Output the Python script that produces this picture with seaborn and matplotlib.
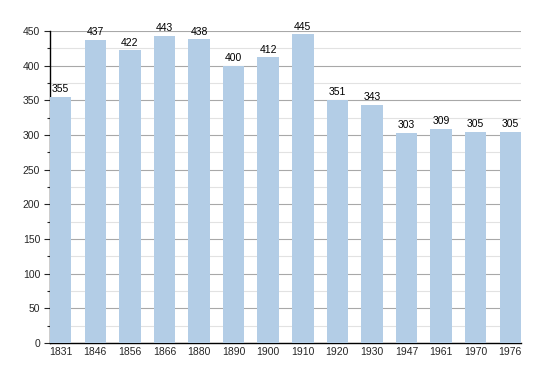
import matplotlib
matplotlib.use("Agg")
import matplotlib.pyplot as plt
from matplotlib.ticker import MultipleLocator
import seaborn as sns
import pandas as pd

# population by census year
years = ["1831", "1846", "1856", "1866", "1880", "1890", "1900",
         "1910", "1920", "1930", "1947", "1961", "1970", "1976"]
population = [355, 437, 422, 443, 438, 400, 412,
              445, 351, 343, 303, 309, 305, 305]

df = pd.DataFrame({"year": years, "population": population})

sns.set_style("white")
plt.rcParams["font.family"] = ["Liberation Sans", "DejaVu Sans"]

fig = plt.figure(figsize=(5.5, 3.73), dpi=100)
ax = fig.add_axes([0.0909, 0.0804, 0.8564, 0.8365])

bar_w = 0.62
sns.barplot(data=df, x="year", y="population", color="#b3cde6",
            saturation=1, width=bar_w, linewidth=0, ax=ax, zorder=3)
for c in ax.containers:
    ax.bar_label(c, padding=2, fontsize=7.5, color="black")  # values above bars

ax.set_xlim(-bar_w / 2, len(years) - 1 + bar_w / 2)
ax.set_ylim(0, 450)
ax.yaxis.set_major_locator(MultipleLocator(50))
ax.yaxis.set_minor_locator(MultipleLocator(25))
ax.grid(axis="y", which="major", color="#a8a8a8", linewidth=0.8, zorder=0)
ax.grid(axis="y", which="minor", color="#e2e2e2", linewidth=0.8, zorder=0)
ax.set_axisbelow(True)

ax.set_xlabel("")
ax.set_ylabel("")
for s in ["top", "right"]:
    ax.spines[s].set_visible(False)
ax.spines["left"].set_color("black")
ax.spines["bottom"].set_color("black")
ax.spines["left"].set_linewidth(1.0)
ax.spines["bottom"].set_linewidth(1.0)

ax.tick_params(axis="x", length=0, labelsize=7.5, pad=3)
ax.tick_params(axis="y", which="major", left=True, length=4, width=0.8, labelsize=7.5, pad=3)
ax.tick_params(axis="y", which="minor", left=True, length=2, width=0.8)

fig.savefig("out.png", dpi=100)
